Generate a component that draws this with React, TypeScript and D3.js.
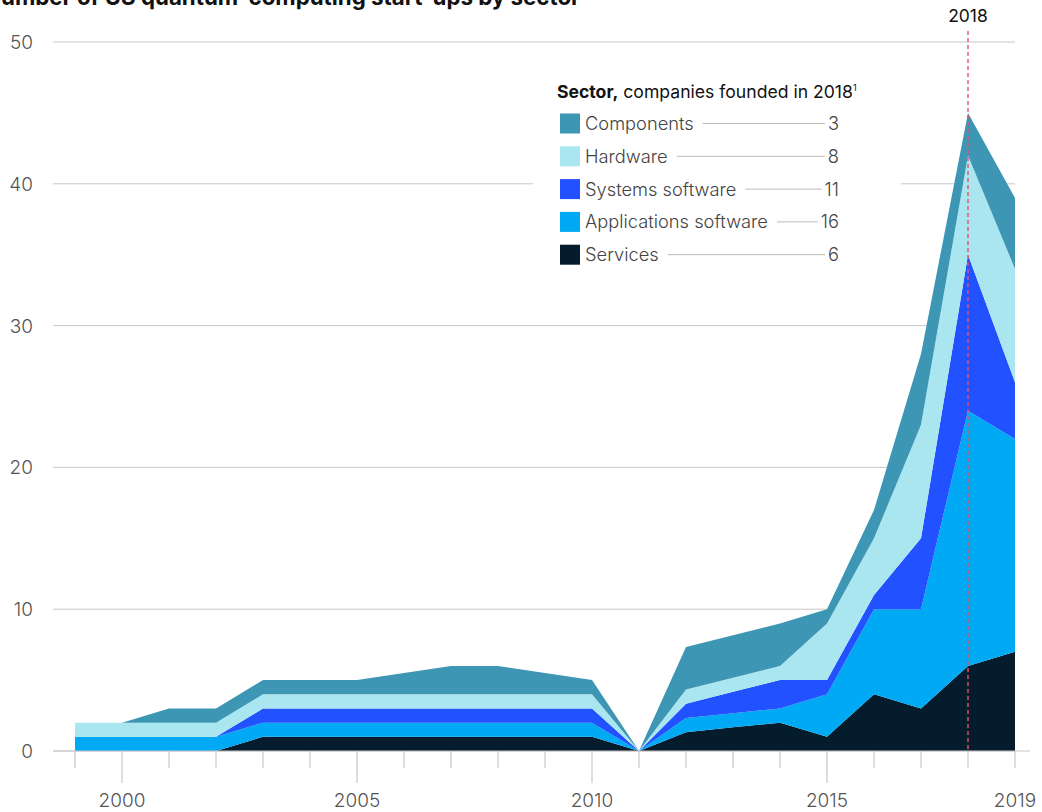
import React from "react";
import * as d3 from "d3";

const years = [1999, 2000, 2001, 2002, 2003, 2004, 2005, 2006, 2007, 2008, 2009, 2010, 2011, 2012, 2013, 2014, 2015, 2016, 2017, 2018, 2019];
const services = [0, 0, 0, 0, 1, 1, 1, 1, 1, 1, 1, 1, 0, 1.33, 1.67, 2, 1, 4, 3, 6, 7];
const applications = [1, 1, 1, 1, 1, 1, 1, 1, 1, 1, 1, 1, 0, 1, 1, 1, 3, 6, 7, 18, 15];
const systems = [0, 0, 0, 0, 1, 1, 1, 1, 1, 1, 1, 1, 0, 1, 1.5, 2, 1, 1, 5, 11, 4];
const hardware = [1, 1, 1, 1, 1, 1, 1, 1, 1, 1, 1, 1, 0, 1, 1, 1, 4, 4, 8, 7, 8];
const components = [0, 0, 1, 1, 1, 1, 1, 1.5, 2, 2, 1.5, 1, 0, 3, 3, 3, 1, 2, 5, 3, 5];

const seriesKeys = ["services", "applications", "systems", "hardware", "components"];
const seriesColors: Record<string, string> = {
  services: "#051C2C",
  applications: "#00A9F4",
  systems: "#2251FF",
  hardware: "#AAE6F0",
  components: "#3C96B4",
};
const legendLabels = ["Components", "Hardware", "Systems software", "Applications software", "Services"];
const legendKeys = ["components", "hardware", "systems", "applications", "services"];
const legendValues = ["3", "8", "11", "16", "6"];
const yTicks = [0, 10, 20, 30, 40, 50];
const xLabelYears = [2000, 2005, 2010, 2015, 2019];
const majorYears = [2000, 2005, 2010, 2015];
const highlightYear = 2018;
const titleText = "Number of US quantum-computing start-ups by sector";

const FONT = "Inter, 'Liberation Sans', Arial, sans-serif";

function measure(text: string, font: string): number {
  const c = document.createElement("canvas");
  const ctx = c.getContext("2d");
  if (!ctx) return text.length * 9;
  ctx.font = font;
  return ctx.measureText(text).width;
}

export default function App() {
  const W = 1042, H = 812;
  const x = d3.scaleLinear().domain([1999, 2019]).range([75, 1015]);
  const y = d3.scaleLinear().domain([0, 50]).range([751, 42]);

  const table = years.map((yr, i) => ({
    year: yr,
    services: services[i],
    applications: applications[i],
    systems: systems[i],
    hardware: hardware[i],
    components: components[i],
  }));
  const stack = d3.stack<any>().keys(seriesKeys);
  const layers = stack(table);
  const area = d3
    .area<any>()
    .x((d) => x(d.data.year))
    .y0((d) => y(d[0]))
    .y1((d) => y(d[1]))
    .curve(d3.curveLinear);

  const legendSize = 18.3;
  const legendFont = `300 ${legendSize}px Inter`;
  const valueRight = 839;
  const labelX = 585;
  const rowY0 = 123.5;
  const rowStep = 32.8;

  return (
    <svg
      width={W}
      height={H}
      style={{ position: "absolute", left: 0, top: 0, background: "#fff" }}
      fontFamily={FONT}
    >
      <text x={-16} y={5} fontSize={22.3} fontWeight="bold" fill="#111">
        {titleText}
      </text>

      {yTicks.map((t) => (
        <g key={t}>
          <line x1={53} x2={1015} y1={y(t)} y2={y(t)} stroke="#c8c8c8" strokeWidth={1} />
          <text x={33} y={y(t) + 7} textAnchor="end" fontSize={19} fontWeight={300} fill="#555">
            {t}
          </text>
        </g>
      ))}

      {/* legend background masks gridline */}
      <rect x={533} y={70} width={368} height={200} fill="#fff" />

      {layers.map((layer) => (
        <path key={layer.key} d={area(layer as any) || ""} fill={seriesColors[layer.key]} />
      ))}

      <line x1={53} x2={1030} y1={y(0)} y2={y(0)} stroke="#c8c8c8" strokeWidth={1.2} />
      {years.map((yr) => (
        <line
          key={yr}
          x1={x(yr)}
          x2={x(yr)}
          y1={y(0)}
          y2={majorYears.includes(yr) ? 783 : 768}
          stroke="#c8c8c8"
          strokeWidth={1.2}
        />
      ))}
      {xLabelYears.map((yr) => (
        <text key={yr} x={x(yr)} y={807} textAnchor="middle" fontSize={19} fontWeight={300} fill="#555">
          {yr}
        </text>
      ))}

      <line
        x1={x(highlightYear)}
        x2={x(highlightYear)}
        y1={31}
        y2={y(0)}
        stroke="#E8516A"
        strokeWidth={1.4}
        strokeDasharray="4,3"
      />
      <text x={x(highlightYear)} y={22} textAnchor="middle" fontSize={17.5} fill="#111">
        {highlightYear}
      </text>

      <text x={557} y={98} fontSize={17.6} fill="#111">
        <tspan fontWeight="bold">Sector,</tspan>
        <tspan fontWeight={400}> companies founded in 2018</tspan>
        <tspan fontSize={9} dy={-7}>1</tspan>
      </text>
      {legendLabels.map((lab, i) => {
        const cy = rowY0 + i * rowStep;
        const lw = measure(lab, legendFont);
        const vw = measure(legendValues[i], legendFont);
        return (
          <g key={lab}>
            <rect x={560} y={cy - 10} width={20} height={20} fill={seriesColors[legendKeys[i]]} />
            <text x={labelX} y={cy + 6.5} fontSize={legendSize} fontWeight={300} fill="#444">
              {lab}
            </text>
            <line
              x1={labelX + lw + 9}
              x2={valueRight - vw - 3}
              y1={cy}
              y2={cy}
              stroke="#bbb"
              strokeWidth={1}
            />
            <text x={valueRight} y={cy + 6.5} fontSize={legendSize} fontWeight={300} fill="#444" textAnchor="end">
              {legendValues[i]}
            </text>
          </g>
        );
      })}
    </svg>
  );
}
